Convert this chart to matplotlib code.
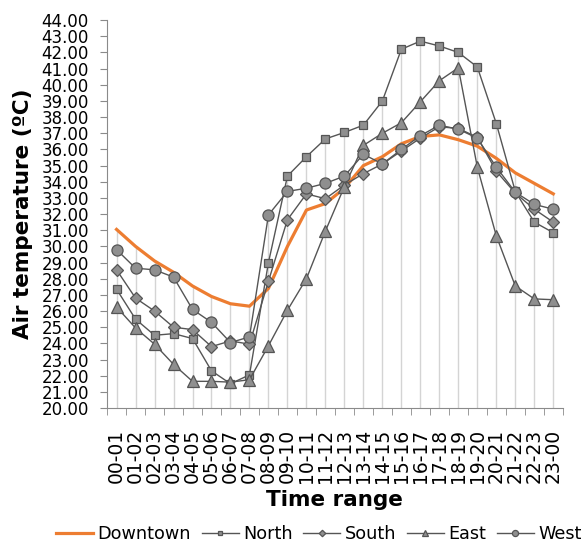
import numpy as np
import matplotlib
matplotlib.use("Agg")
import matplotlib.pyplot as plt
from matplotlib.ticker import FixedLocator, FormatStrFormatter

plt.rcParams['font.family'] = ['DejaVu Sans']

# time ranges on the x axis
hours = ['00-01', '01-02', '02-03', '03-04', '04-05', '05-06', '06-07', '07-08',
         '08-09', '09-10', '10-11', '11-12', '12-13', '13-14', '14-15', '15-16',
         '16-17', '17-18', '18-19', '19-20', '20-21', '21-22', '22-23', '23-00']

# air temperature per zone
downtown = [31.05, 30.0, 29.1, 28.4, 27.55, 26.9, 26.45, 26.3, 27.4, 30.0, 32.25, 32.65,
            33.6, 35.0, 35.55, 36.35, 36.8, 36.9, 36.6, 36.2, 35.45, 34.55, 33.9, 33.25]
north = [27.35, 25.5, 24.5, 24.6, 24.3, 22.3, 21.5, 22.05, 29.0, 34.35, 35.55, 36.65,
         37.05, 37.5, 39.0, 42.2, 42.7, 42.4, 42.0, 41.1, 37.6, 33.4, 31.5, 30.85]
south = [28.55, 26.8, 26.0, 25.0, 24.85, 23.8, 24.15, 23.95, 27.85, 31.65, 33.25, 32.95,
         33.8, 34.5, 35.1, 35.9, 36.7, 37.4, 37.3, 36.75, 34.65, 33.3, 32.3, 31.5]
east = [26.25, 24.95, 23.95, 22.7, 21.65, 21.65, 21.6, 21.75, 23.85, 26.05, 28.0, 30.95,
        33.7, 36.25, 37.0, 37.65, 38.95, 40.25, 41.05, 34.9, 30.65, 27.55, 26.75, 26.7]
west = [29.8, 28.65, 28.55, 28.1, 26.1, 25.3, 24.05, 24.4, 31.95, 33.4, 33.6, 33.9,
        34.35, 35.7, 35.1, 36.0, 36.85, 37.5, 37.25, 36.7, 34.9, 33.35, 32.6, 32.3]

x = np.arange(len(hours))

fig = plt.figure(figsize=(5.85, 5.44), dpi=100)
ax = fig.add_axes([0.183, 0.25, 0.779, 0.713])

# drop lines from the highest series down to the axis
top = np.max(np.vstack([downtown, north, south, east, west]), axis=0)
ax.vlines(x, 20, top, color='#d4d4d4', lw=1, zorder=1)

ax.plot(x, downtown, color='#ED7D31', lw=2.3, label='Downtown', zorder=2)
gray = dict(color='#555555', lw=1, markerfacecolor='#8f8f8f',
            markeredgecolor='#555555', markeredgewidth=0.9, zorder=3)
ax.plot(x, north, marker='s', ms=6, label='North', **gray)
ax.plot(x, south, marker='D', ms=6, label='South', **gray)
ax.plot(x, east, marker='^', ms=8, label='East', **gray)
ax.plot(x, west, marker='o', ms=8, label='West', **gray)

ax.set_xlim(-0.5, 23.5)
ax.set_ylim(20, 44)
ax.set_yticks(np.arange(20, 45, 1))
ax.yaxis.set_major_formatter(FormatStrFormatter('%.2f'))
ax.set_xticks(x)
ax.set_xticklabels(hours, rotation=90)
ax.xaxis.set_minor_locator(FixedLocator(np.arange(-0.5, 24, 1)))

for s in ['top', 'right']:
    ax.spines[s].set_visible(False)
for s in ['left', 'bottom']:
    ax.spines[s].set_color('#8a8a8a')

ax.tick_params(axis='y', labelsize=12, length=5, pad=8, color='#8a8a8a')
ax.tick_params(axis='x', which='major', labelsize=13.5, length=0, pad=15)
ax.tick_params(axis='x', which='minor', length=5, color='#8a8a8a')

ax.set_ylabel('Air temperature (ºC)', fontsize=15.5, fontweight='bold', labelpad=6)
ax.set_xlabel('Time range', fontsize=15.5, fontweight='bold', labelpad=5)

fig.legend(loc='center', bbox_to_anchor=(0.545, 0.018), ncol=5, frameon=False,
           fontsize=12.7, handlelength=2.1, handletextpad=0.25, columnspacing=0.6,
           borderaxespad=0, markerscale=0.55)

fig.savefig('out.png', dpi=100)
